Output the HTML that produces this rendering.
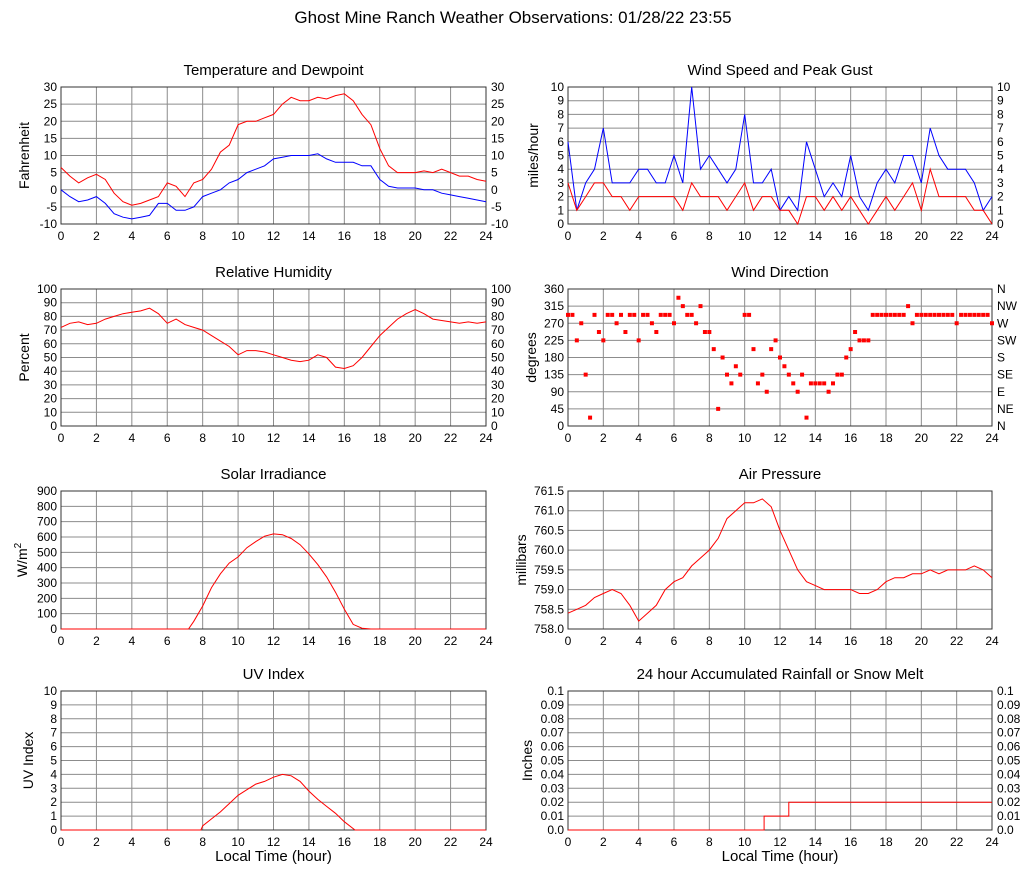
<!DOCTYPE html>
<html><head><meta charset="utf-8">
<style>
html,body{margin:0;padding:0;background:#fff;}
svg{display:block;font-family:"Liberation Sans",sans-serif;}
</style></head>
<body>
<svg id="chart" width="1027" height="878" viewBox="0 0 1027 878" xmlns="http://www.w3.org/2000/svg">
<text x="513" y="23" text-anchor="middle" font-size="17">Ghost Mine Ranch Weather Observations: 01/28/22 23:55</text>
</svg>
<script>
// ---- data ----
const halfHours = [0,0.5,1,1.5,2,2.5,3,3.5,4,4.5,5,5.5,6,6.5,7,7.5,8,8.5,9,9.5,10,10.5,11,11.5,12,12.5,13,13.5,14,14.5,15,15.5,16,16.5,17,17.5,18,18.5,19,19.5,20,20.5,21,21.5,22,22.5,23,23.5,24];
const temperature = [6.5,4,2,3.5,4.5,3,-1,-3.5,-4.5,-4,-3,-2,2,1,-2,2,3,6,11,13,19,20,20,21,22,25,27,26,26,27,26.5,27.5,28,26,22,19,12,7,5,5,5,5.5,5,6,5,4,4,3,2.5];
const dewpoint = [0,-2,-3.5,-3,-2,-4,-7,-8,-8.5,-8,-7.5,-4,-4,-6,-6,-5,-2,-1,0,2,3,5,6,7,9,9.5,10,10,10,10.5,9,8,8,8,7,7,3,1,0.5,0.5,0.5,0,0,-1,-1.5,-2,-2.5,-3,-3.5];
const humidity = [72,75,76,74,75,78,80,82,83,84,86,82,75,78,74,72,70,66,62,58,52,55,55,54,52,50,48,47,48,52,50,43,42,44,50,58,66,72,78,82,85,82,78,77,76,75,76,75,76];
const windGust = [6,1,3,4,7,3,3,3,4,4,3,3,5,3,10,4,5,4,3,4,8,3,3,4,1,2,1,6,4,2,3,2,5,2,1,3,4,3,5,5,3,7,5,4,4,4,3,1,2];
const windSpeed = [3,1,2,3,3,2,2,1,2,2,2,2,2,1,3,2,2,2,1,2,3,1,2,2,1,1,0,2,2,1,2,1,2,1,0,1,2,1,2,3,1,4,2,2,2,2,1,1,0];
const quarterHours = [0,0.25,0.5,0.75,1,1.25,1.5,1.75,2,2.25,2.5,2.75,3,3.25,3.5,3.75,4,4.25,4.5,4.75,5,5.25,5.5,5.75,6,6.25,6.5,6.75,7,7.25,7.5,7.75,8,8.25,8.5,8.75,9,9.25,9.5,9.75,10,10.25,10.5,10.75,11,11.25,11.5,11.75,12,12.25,12.5,12.75,13,13.25,13.5,13.75,14,14.25,14.5,14.75,15,15.25,15.5,15.75,16,16.25,16.5,16.75,17,17.25,17.5,17.75,18,18.25,18.5,18.75,19,19.25,19.5,19.75,20,20.25,20.5,20.75,21,21.25,21.5,21.75,22,22.25,22.5,22.75,23,23.25,23.5,23.75,24];
const windDir = [292,292,225,270, 135,22,292,247, 225,292,292,270, 292,247,292,292, 225,292,292,270, 247,292,292,292, 270,337,315,292, 292,270,315,247, 247,202,45,180, 135,112,157,135, 292,292,202,112, 135,90,202,225, 180,157,135,112, 90,135,22,112, 112,112,112,90, 112,135,135,180, 202,247,225,225, 225,292,292,292, 292,292,292,292, 292,315,270,292, 292,292,292,292, 292,292,292,292, 270,292,292,292, 292,292,292,292, 270];
const solarHours = [0,7.2,7.5,8,8.5,9,9.5,10,10.5,11,11.5,12,12.5,13,13.5,14,14.5,15,15.5,16,16.5,17,17.5,24];
const solarValues = [0,0,50,150,270,360,430,470,530,570,605,620,615,590,550,490,420,340,240,130,30,5,0,0];
const uvHours = [0,7.9,8,8.5,9,9.5,10,10.5,11,11.5,12,12.5,13,13.5,14,14.5,15,15.5,16,16.5,16.6,24];
const uvValues = [0,0,0.3,0.8,1.3,1.9,2.5,2.9,3.3,3.5,3.8,4,3.9,3.5,2.8,2.2,1.7,1.2,0.6,0.1,0,0];
const pressure = [758.4,758.5,758.6,758.8,758.9,759.0,758.9,758.6,758.2,758.4,758.6,759.0,759.2,759.3,759.6,759.8,760.0,760.3,760.8,761.0,761.2,761.2,761.3,761.1,760.5,760.0,759.5,759.2,759.1,759.0,759.0,759.0,759.0,758.9,758.9,759.0,759.2,759.3,759.3,759.4,759.4,759.5,759.4,759.5,759.5,759.5,759.6,759.5,759.3];
const rainHours = [0,11.1,11.1,12.5,12.5,24];
const rainValues = [0,0,0.01,0.01,0.02,0.02];
const xTicks = [0,2,4,6,8,10,12,14,16,18,20,22,24];
const dirLabels = ["N","NE","E","SE","S","SW","W","NW","N"];

// ---- drawing ----
const NS="http://www.w3.org/2000/svg";
const svg=document.getElementById('chart');
function mk(tag,attrs,parent){const e=document.createElementNS(NS,tag);for(const k in attrs)e.setAttribute(k,attrs[k]);(parent||svg).appendChild(e);return e;}
const COLS=[[61,486],[568,992]];
const ROWS=[[87,224],[289,426],[491,629],[691,830]];

function panel(o){
  const [x0,x1]=COLS[o.col],[y0,y1]=ROWS[o.row];
  const g=mk('g',{});
  
  
  const sx=h=>x0+(h/24)*(x1-x0);
  const sy=v=>y1-(v-o.min)/(o.max-o.min)*(y1-y0);
  const t=mk('text',{x:(x0+x1)/2,y:y0-12,'text-anchor':'middle','font-size':15},g);t.textContent=o.title;
  
  
  for(const h of xTicks){
    mk('line',{x1:sx(h),x2:sx(h),y1:y0,y2:y1,stroke:'#8c8c8c','stroke-width':1},g);
    const tl=mk('text',{x:sx(h),y:y1+16,'text-anchor':'middle','font-size':12},g);tl.textContent=h;
    
    
  }
  o.ticks.forEach((v,i)=>{
    mk('line',{x1:x0,x2:x1,y1:sy(v),y2:sy(v),stroke:'#8c8c8c','stroke-width':1},g);
    const lab=o.fmt?o.fmt(v):String(v);
    const tl=mk('text',{x:x0-4,y:sy(v)+4,'text-anchor':'end','font-size':12},g);tl.textContent=lab;
    
    
    if(o.right){
      const rl=mk('text',{x:x1+5,y:sy(v)+4,'text-anchor':'start','font-size':12},g);rl.textContent=o.rfmt?o.rfmt(v,i):lab;
      
      
    }
  });
  mk('rect',{x:x0,y:y0,width:x1-x0,height:y1-y0,fill:'none',stroke:'#333','stroke-width':1},g);
  const yl=mk('text',{transform:`translate(${x0-o.ylOff},${(y0+y1)/2}) rotate(-90)`,'text-anchor':'middle','font-size':14},g);
  yl.innerHTML=o.ylabel;
  
  
  if(o.row===3){
    const xl=mk('text',{x:(x0+x1)/2,y:y1+31,'text-anchor':'middle','font-size':15},g);xl.textContent='Local Time (hour)';
    
    
  }
  (o.series||[]).forEach(s=>{
    const d=s.xs.map((h,i)=>(i?'L':'M')+sx(h).toFixed(1)+','+sy(s.ys[i]).toFixed(1)).join('');
    const p=mk('path',{d,fill:'none',stroke:s.color,'stroke-width':1},g);
    
    
  });
  if(o.points){
    const pg=mk('g',{},g);
    
    
    o.points.xs.forEach((h,i)=>{
      const r=mk('rect',{x:sx(h)-2,y:sy(o.points.ys[i])-2,width:4,height:4,fill:'#f00'},pg);
      
      
    });
  }
}
const range=(a,b,s)=>{const r=[];for(let v=a;v<=b+1e-9;v+=s)r.push(Math.round(v*1000)/1000);return r;};

panel({name:'temperature-panel',col:0,row:0,title:'Temperature and Dewpoint',min:-10,max:30,ticks:range(-10,30,5),right:true,ylabel:'Fahrenheit',ylOff:32,
  series:[{name:'temperature-line',xs:halfHours,ys:temperature,color:'#f00'},{name:'dewpoint-line',xs:halfHours,ys:dewpoint,color:'#00f'}]});
panel({name:'wind-speed-panel',col:1,row:0,title:'Wind Speed and Peak Gust',min:0,max:10,ticks:range(0,10,1),right:true,ylabel:'miles/hour',ylOff:30,
  series:[{name:'gust-line',xs:halfHours,ys:windGust,color:'#00f'},{name:'speed-line',xs:halfHours,ys:windSpeed,color:'#f00'}]});
panel({name:'humidity-panel',col:0,row:1,title:'Relative Humidity',min:0,max:100,ticks:range(0,100,10),right:true,ylabel:'Percent',ylOff:32,
  series:[{name:'humidity-line',xs:halfHours,ys:humidity,color:'#f00'}]});
panel({name:'wind-direction-panel',col:1,row:1,title:'Wind Direction',min:0,max:360,ticks:range(0,360,45),right:true,rfmt:(v,i)=>dirLabels[i],ylabel:'degrees',ylOff:32,
  points:{xs:quarterHours,ys:windDir}});
panel({name:'solar-panel',col:0,row:2,title:'Solar Irradiance',min:0,max:900,ticks:range(0,900,100),right:false,ylabel:'W/m<tspan dy="-6" font-size="10">2</tspan>',ylOff:34,
  series:[{name:'solar-line',xs:solarHours,ys:solarValues,color:'#f00'}]});
panel({name:'pressure-panel',col:1,row:2,title:'Air Pressure',min:758,max:761.5,ticks:range(758,761.5,0.5),fmt:v=>v.toFixed(1),right:false,ylabel:'millibars',ylOff:42,
  series:[{name:'pressure-line',xs:halfHours,ys:pressure,color:'#f00'}]});
panel({name:'uv-panel',col:0,row:3,title:'UV Index',min:0,max:10,ticks:range(0,10,1),right:false,ylabel:'UV Index',ylOff:28,
  series:[{name:'uv-line',xs:uvHours,ys:uvValues,color:'#f00'}]});
panel({name:'rainfall-panel',col:1,row:3,title:'24 hour Accumulated Rainfall or Snow Melt',min:0,max:0.1,ticks:range(0,0.1,0.01),fmt:v=>v===0?'0.0':String(v),right:true,ylabel:'Inches',ylOff:36,
  series:[{name:'rainfall-line',xs:rainHours,ys:rainValues,color:'#f00'}]});
</script>
</body></html>
